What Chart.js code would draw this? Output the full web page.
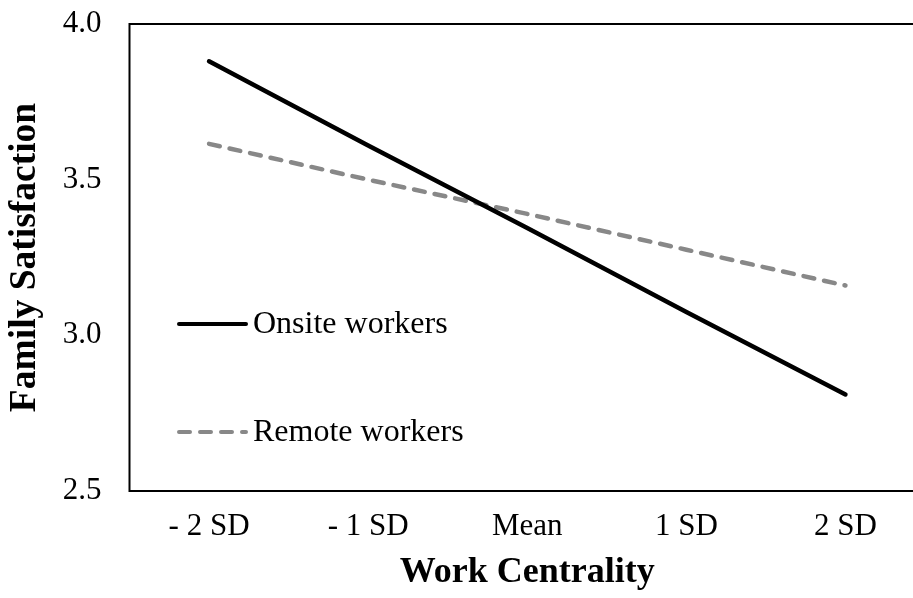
<!DOCTYPE html>
<html>
<head>
<meta charset="utf-8">
<script src="https://cdn.jsdelivr.net/npm/chart.js@4"></script>
<style>
  html, body { margin: 0; padding: 0; background: #fff; overflow: hidden; }
  #chart { position: absolute; left: 0; top: 0; }
</style>
</head>
<body>
<canvas id="chart" width="925" height="598"></canvas>
<script>
const categories = ['- 2 SD', '- 1 SD', 'Mean', '1 SD', '2 SD'];
const onsite = [3.88, 3.61, 3.345, 3.075, 2.81];
const remote = [3.615, 3.50, 3.39, 3.275, 3.16];
const yTicks = [2.5, 3.0, 3.5, 4.0];
const seriesNames = ['Onsite workers', 'Remote workers'];

const serif = "'Liberation Serif', 'Times New Roman', serif";

// box around the plot + legend inside the plot
const frameAndLegend = {
    id: 'frameAndLegend',
    beforeDatasetsDraw(chart) {
        const a = chart.chartArea;
        const c = chart.ctx;
        c.save();
        c.strokeStyle = '#000';
        c.lineWidth = 2;
        c.strokeRect(a.left, a.top, a.right - a.left, a.bottom - a.top);
        c.restore();
    },
    afterDraw(chart) {
        const c = chart.ctx;
        const rows = [
            { y: 324, color: '#000', dash: [] },
            { y: 432, color: '#888', dash: [11, 10] }
        ];
        c.save();
        c.font = '32px ' + serif;
        c.textBaseline = 'middle';
        c.fillStyle = '#000';
        rows.forEach((r, i) => {
            c.beginPath();
            c.strokeStyle = r.color;
            c.lineWidth = 4;
            c.lineCap = 'round';
            c.setLineDash(r.dash);
            c.moveTo(179, r.y);
            c.lineTo(246, r.y);
            c.stroke();
            c.setLineDash([]);
            c.fillText(seriesNames[i], 253, r.y + 1);
        });
        c.restore();
    }
};

new Chart(document.getElementById('chart'), {
    type: 'line',
    data: {
        labels: categories,
        datasets: [{
            label: seriesNames[0],
            data: onsite,
            borderColor: '#000',
            borderWidth: 4.5,
            borderCapStyle: 'round',
            pointRadius: 0,
            tension: 0
        }, {
            label: seriesNames[1],
            data: remote,
            borderColor: '#888',
            borderWidth: 4.5,
            borderDash: [11, 10],
            borderCapStyle: 'round',
            pointRadius: 0,
            tension: 0
        }]
    },
    options: {
        responsive: false,
        animation: false,
        layout: { padding: { top: 24, right: 0, left: 0, bottom: 0 } },
        plugins: {
            legend: { display: false },
            tooltip: { enabled: false }
        },
        scales: {
            x: {
                offset: true,
                grid: { display: false, drawTicks: false },
                border: { display: false },
                ticks: { color: '#000', font: { family: serif, size: 31 }, padding: 17, maxRotation: 0 },
                title: {
                    display: true,
                    text: 'Work Centrality',
                    color: '#000',
                    font: { family: serif, size: 36, weight: 'bold' },
                    padding: { top: 6 }
                },
                afterFit(s) {
                    s.height = 107;
                    s.paddingLeft = 0;
                    s.paddingRight = 0;
                }
            },
            y: {
                min: 2.5,
                max: 4.0,
                grid: { display: false, drawTicks: false },
                border: { display: false },
                afterBuildTicks(s) { s.ticks = yTicks.map(v => ({ value: v })); },
                ticks: {
                    color: '#000',
                    font: { family: serif, size: 31 },
                    padding: 28,
                    callback: v => v.toFixed(1)
                },
                title: {
                    display: true,
                    text: 'Family Satisfaction',
                    color: '#000',
                    font: { family: serif, size: 37.5, weight: 'bold' },
                    padding: { top: 3, bottom: 0 }
                },
                afterFit(s) {
                    s.width = 129.5;
                    s.paddingTop = 0;
                    s.paddingBottom = 0;
                }
            }
        }
    },
    plugins: [frameAndLegend]
});
</script>
</body>
</html>
